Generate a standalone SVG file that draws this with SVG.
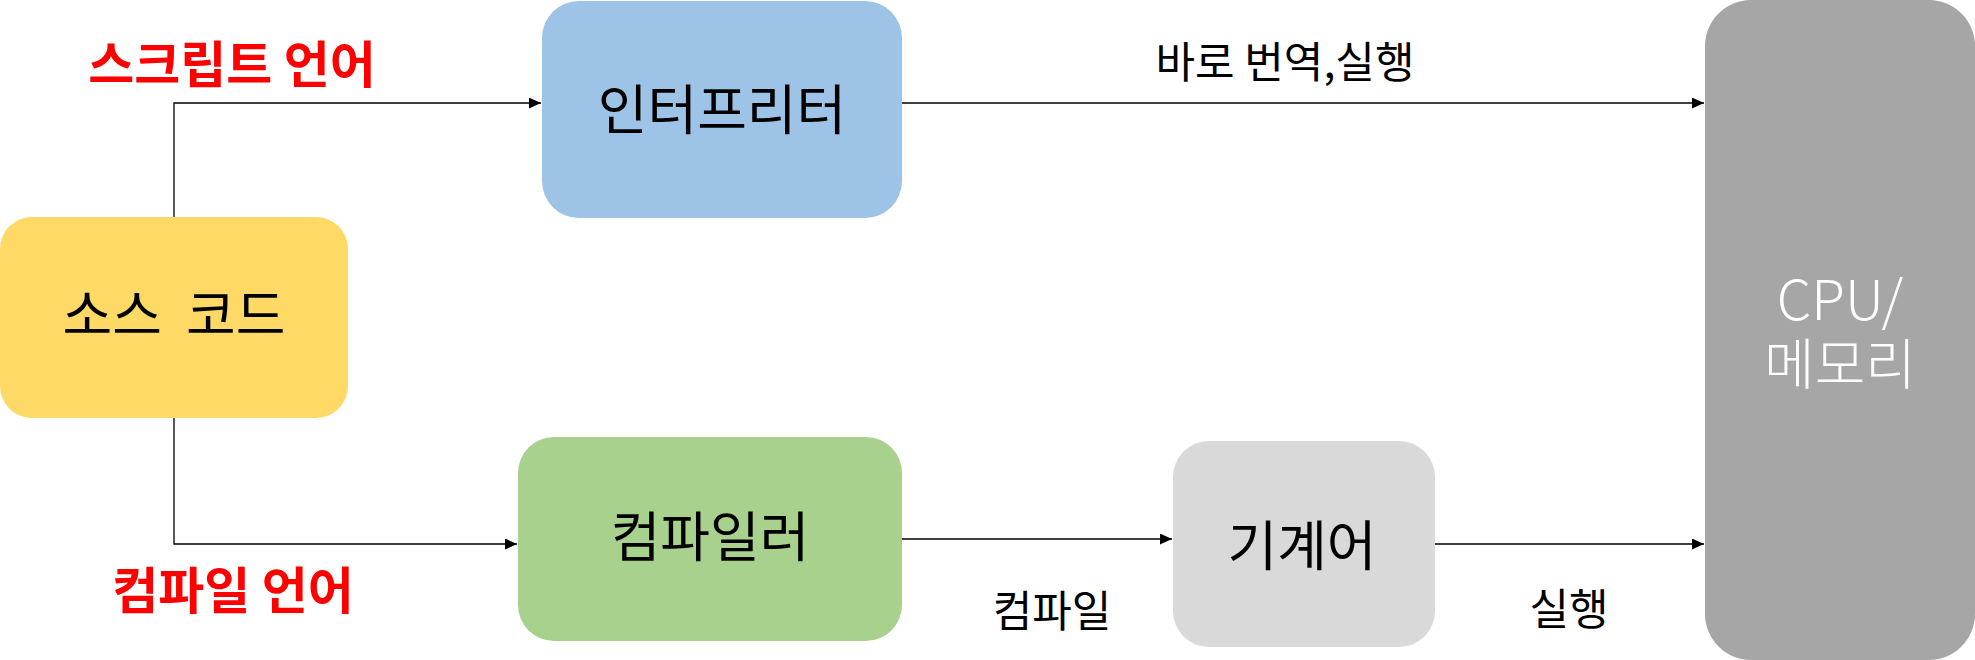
<svg xmlns="http://www.w3.org/2000/svg" width="1975" height="660" viewBox="0 0 1975 660">
<style>
.t{font-family:"Noto Sans CJK KR","Noto Sans",sans-serif;text-anchor:middle;fill:#000}
.big{font-size:54px}
.lbl{font-size:43px}
.red{font-size:50px;font-weight:700;fill:#FF0000}
.wt{fill:#FFFFFF;font-size:55px;font-weight:300}
.conn{fill:none;stroke:#000;stroke-width:1.3}
</style>
<defs>
<marker id="arr" markerWidth="12" markerHeight="11" refX="12" refY="5.5" orient="auto" markerUnits="userSpaceOnUse">
<path d="M0,0 L12,5.5 L0,11 Z" fill="#000"/>
</marker>
</defs>
<rect width="1975" height="660" fill="#FFFFFF"/>
<g id="connectors">
<path class="conn" d="M174,217 V103 H541" marker-end="url(#arr)"/>
<path class="conn" d="M174,418 V544 H517" marker-end="url(#arr)"/>
<path class="conn" d="M902,103 H1704" marker-end="url(#arr)"/>
<path class="conn" d="M902,539 H1172" marker-end="url(#arr)"/>
<path class="conn" d="M1435,544 H1704" marker-end="url(#arr)"/>
</g>
<g id="label-script">
<text class="t red" x="232" y="83">스크립트 언어</text>
</g>
<g id="label-compile-lang">
<text class="t red" x="233" y="609">컴파일 언어</text>
</g>
<g id="label-direct">
<text class="t lbl" x="1285" y="78">바로 번역,실행</text>
</g>
<g id="label-compile">
<text class="t lbl" x="1052" y="627">컴파일</text>
</g>
<g id="label-run">
<text class="t lbl" x="1569" y="625">실행</text>
</g>
<g id="source">
<rect x="0" y="217" width="348" height="201" rx="32" fill="#FFD966"/>
<text class="t big" x="174" y="335" word-spacing="12">소스 코드</text>
</g>
<g id="interpreter">
<rect x="542" y="1" width="360" height="217" rx="37" fill="#9DC3E6"/>
<text class="t big" x="722" y="130">인터프리터</text>
</g>
<g id="compiler">
<rect x="518" y="437" width="384" height="204" rx="36" fill="#A9D18E"/>
<text class="t big" x="710" y="557">컴파일러</text>
</g>
<g id="machine">
<rect x="1173" y="441" width="262" height="206" rx="36" fill="#D9D9D9"/>
<text class="t big" x="1302" y="566">기계어</text>
</g>
<g id="cpu">
<rect x="1705" y="0" width="270" height="660" rx="46" fill="#A6A6A6"/>
<text class="t wt" x="1840" y="320"><tspan x="1840" y="320">CPU/</tspan><tspan x="1840" y="384">메모리</tspan></text>
</g>
</svg>
